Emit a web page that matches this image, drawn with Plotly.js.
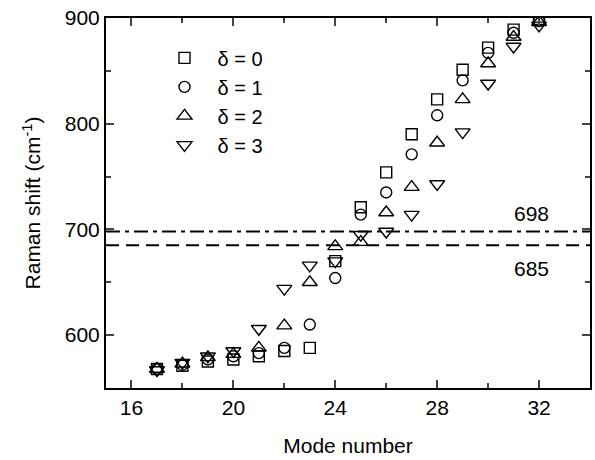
<!DOCTYPE html>
<html><head><meta charset="utf-8">
<script src="https://cdn.plot.ly/plotly-3.0.1.min.js"></script>
<style>html,body{margin:0;padding:0;background:#fff}#chart{width:595px;height:460px}</style>
</head><body><div id="chart"></div>
<script>
const modes = [17,18,19,20,21,22,23,24,25,26,27,28,29,30,31,32];
const delta0 = [568,571,575,577,580,585,588,670,721,754,790,823,851,872,889,899];
const delta1 = [568,572,577,580,583,588,610,654,714,735,771,808,841,867,886,897];
const delta2 = [568,573,579,582,588,609,650,684,688,716,740,782,823,857,882,896];
const delta3 = [567,574,580,585,606,644,666,670,695,698,714,743,792,838,873,893];
const seriesNames = ['δ = 0','δ = 1','δ = 2','δ = 3'];
const symbols = ['square-open','circle-open','triangle-up-open','triangle-down-open'];
const lineDashDot = 698;
const lineDashed = 685;
const lineLabels = ['698','685'];

const F = 'Liberation Sans, Arial, Helvetica, sans-serif';
const series = [delta0, delta1, delta2, delta3];
const traces = series.map((ys, i) => ({
  x: modes, y: ys, type: 'scatter', mode: 'markers', name: seriesNames[i],
  legendgroup: 'g' + i,
  marker: {symbol: symbols[i], size: i >= 2 ? 13 : 11, color: '#000', line: {width: 1.4, color: '#000'}},
  cliponaxis: true
}));

const layout = {
  width: 595, height: 460,
  margin: {l: 106, r: 5, t: 18, b: 72},
  paper_bgcolor: '#fff', plot_bgcolor: '#fff',
  font: {family: F, size: 21, color: '#000'},
  showlegend: true,
  legend: {x: 0.094, y: 0.945, xanchor: 'left', yanchor: 'top', bgcolor: 'rgba(0,0,0,0)',
           font: {family: F, size: 20}, tracegroupgap: 0, itemwidth: 56},
  xaxis: {range: [15, 34], tick0: 16, dtick: 4, ticks: 'inside', ticklen: 8, tickwidth: 2,
          showline: true, linewidth: 2, linecolor: '#000', mirror: 'allticks', showgrid: false, zeroline: false,
          minor: {dtick: 2, tick0: 16, ticks: 'inside', ticklen: 5, tickwidth: 2, showgrid: false},
          tickfont: {family: F, size: 21},
          title: {text: 'Mode number', font: {family: F, size: 21}, standoff: 20}},
  yaxis: {range: [550, 900], tick0: 600, dtick: 100, ticks: 'inside', ticklen: 8, tickwidth: 2,
          showline: true, linewidth: 2, linecolor: '#000', mirror: 'allticks', showgrid: false, zeroline: false,
          minor: {dtick: 50, tick0: 550, ticks: 'inside', ticklen: 5, tickwidth: 2, showgrid: false},
          tickfont: {family: F, size: 21},
          title: {text: 'Raman shift (cm<sup>-1</sup>)', font: {family: F, size: 21}, standoff: 18}},
  shapes: [
    {type: 'line', xref: 'paper', x0: 0, x1: 1, yref: 'y', y0: lineDashDot, y1: lineDashDot,
     line: {color: '#000', width: 2, dash: '14px,5px,4px,5px'}},
    {type: 'line', xref: 'paper', x0: 0, x1: 1, yref: 'y', y0: lineDashed, y1: lineDashed,
     line: {color: '#000', width: 2, dash: '13px,7px'}}
  ],
  annotations: [
    {x: 31.7, y: lineDashDot, yshift: 18, text: lineLabels[0], showarrow: false, font: {family: F, size: 21}},
    {x: 31.7, y: lineDashed, yshift: -23, text: lineLabels[1], showarrow: false, font: {family: F, size: 21}}
  ]
};
Plotly.newPlot('chart', traces, layout, {staticPlot: true, displayModeBar: false});
</script></body></html>
